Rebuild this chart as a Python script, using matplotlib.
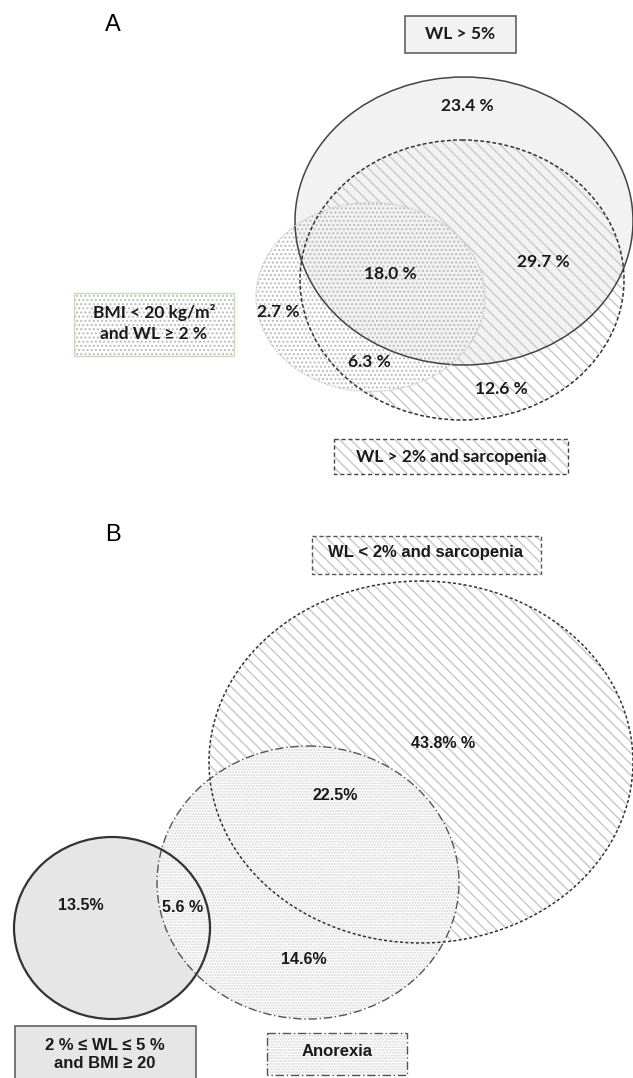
import numpy as np
import matplotlib.pyplot as plt
from matplotlib.patches import Ellipse, Rectangle

# Data
# ----
a_sets = ["WL > 5%", "WL > 2% and sarcopenia", "BMI < 20 kg/m²\nand WL ≥ 2 %"]
a_values = ["23.4 %", "29.7 %", "18.0 %", "2.7 %", "6.3 %", "12.6 %"]

b_sets = ["WL < 2% and sarcopenia", "Anorexia", "2 % ≤ WL ≤ 5 %\nand BMI ≥ 20"]
b_values = ["43.8% %", "22.5%", "14.6%", "5.6 %", "13.5%"]

# Layout (pixel space, y down)
# ------
a_ell = [(464, 221, 338, 288), (462, 280, 324, 280), (370.5, 297, 229, 189)]
a_val_xy = [(467, 106), (543, 262), (390, 274), (278, 312), (369, 362), (501, 389)]
a_box = [(405, 16, 111, 37), (334, 439, 234, 35), (74, 293, 160, 63)]

b_ell = [(421, 762, 424, 362), (308, 882.5, 302, 273), (112, 928, 196, 182)]
b_val_xy = [(443, 743), (335, 796), (304, 960), (183, 907), (81, 905)]
b_box = [(312, 536, 229, 38), (267, 1033, 140, 42), (15, 1026, 181, 70)]

STRIPE = "\\" * 3
DOTS = "...."
HATCH_C = "#c8c8c8"
DOT_C = "#bcbcbc"

plt.rcParams["hatch.linewidth"] = 1.0

fig = plt.figure(figsize=(6.33, 10.78), dpi=100)
ax = fig.add_axes([0, 0, 1, 1])
ax.set_xlim(0, 633)
ax.set_ylim(1078, 0)
ax.axis("off")


def ell(e, **kw):
    p = Ellipse((e[0], e[1]), e[2], e[3], **kw)
    ax.add_patch(p)
    return p


def rect(r, **kw):
    p = Rectangle((r[0], r[1]), r[2], r[3], **kw)
    ax.add_patch(p)
    return p


# Panel A
# -------
ell(a_ell[0], facecolor="#f2f2f2", edgecolor="none", zorder=1)
ell(a_ell[1], facecolor="none", edgecolor=HATCH_C, hatch=STRIPE, lw=0, zorder=2)
bmi_clip = ell(a_ell[2], facecolor="white", edgecolor="none", zorder=3)
g = ell(a_ell[0], facecolor="#f2f2f2", edgecolor="none", zorder=4)
g.set_clip_path(bmi_clip)
ell(a_ell[2], facecolor="none", edgecolor=DOT_C, hatch=DOTS, lw=0, zorder=5)

ell(a_ell[0], fill=False, edgecolor="#444444", lw=1.1, zorder=6)
ell(a_ell[1], fill=False, edgecolor="#333333", lw=1.1, ls=(0, (2.5, 1.5)), zorder=6)
ell(a_ell[2], fill=False, edgecolor="#c8c8c8", lw=1.0, ls=(0, (1, 1)), zorder=6)

rect(a_box[0], facecolor="#f2f2f2", edgecolor="#555555", lw=1.1, zorder=6)
rect(a_box[1], facecolor="white", edgecolor=HATCH_C, hatch=STRIPE, lw=0, zorder=5)
rect(a_box[1], fill=False, edgecolor="#444444", lw=1.0, ls=(0, (3, 2)), zorder=6)
rect(a_box[2], facecolor="white", edgecolor=DOT_C, hatch=DOTS, lw=0, zorder=5)
rect(a_box[2], fill=False, edgecolor="#c5e0b4", lw=1.0, zorder=6)

font_a = dict(family="Lato", fontweight="bold", fontsize=12.5, color="#1a1a1a",
              ha="center", va="center", zorder=7)
for (x, y), s in zip(a_val_xy, a_values):
    ax.text(x, y, s, **font_a)
ax.text(460, 34, a_sets[0], **font_a)
ax.text(451, 457, a_sets[1], **font_a)
ax.text(154, 323, a_sets[2], linespacing=1.4, **font_a)
ax.text(113, 25, "A", family="Liberation Sans", fontsize=17,
        ha="center", va="center", zorder=7)

# Panel B
# -------
ell(b_ell[0], facecolor="white", edgecolor=HATCH_C, hatch=STRIPE, lw=0, zorder=1)
ell(b_ell[2], facecolor="#e6e6e6", edgecolor="none", zorder=1)
ell(b_ell[1], facecolor="white", edgecolor="none", zorder=2)
ell(b_ell[1], facecolor="none", edgecolor="#d4d4d4", hatch="." * 6, lw=0, zorder=3)

ell(b_ell[0], fill=False, edgecolor="#333333", lw=1.1, ls=(0, (2, 1.5)), zorder=6)
ell(b_ell[1], fill=False, edgecolor="#555555", lw=1.0, ls=(0, (6, 2, 1, 2)), zorder=6)
ell(b_ell[2], fill=False, edgecolor="#333333", lw=1.6, zorder=6)

rect(b_box[0], facecolor="white", edgecolor=HATCH_C, hatch=STRIPE, lw=0, zorder=5)
rect(b_box[0], fill=False, edgecolor="#555555", lw=1.0, ls=(0, (3, 2)), zorder=6)
rect(b_box[1], facecolor="white", edgecolor="#d4d4d4", hatch="." * 6, lw=0, zorder=5)
rect(b_box[1], fill=False, edgecolor="#555555", lw=1.0, ls=(0, (6, 2, 1, 2)), zorder=6)
rect(b_box[2], facecolor="#e6e6e6", edgecolor="#555555", lw=1.1, zorder=6)

font_b = dict(family="Liberation Sans", fontweight="bold", fontsize=11.5,
              color="#1a1a1a", ha="center", va="center", zorder=7)
for (x, y), s in zip(b_val_xy, b_values):
    ax.text(x, y, s, **font_b)
font_bl = dict(font_b, fontsize=12)
ax.text(426, 553, b_sets[0], **font_bl)
ax.text(337, 1051, b_sets[1], **font_bl)
ax.text(105, 1054, b_sets[2], linespacing=1.25, **font_bl)
ax.text(113, 535, "B", family="Liberation Sans", fontsize=17,
        ha="center", va="center", zorder=7)

fig.savefig("out.png", dpi=100)
